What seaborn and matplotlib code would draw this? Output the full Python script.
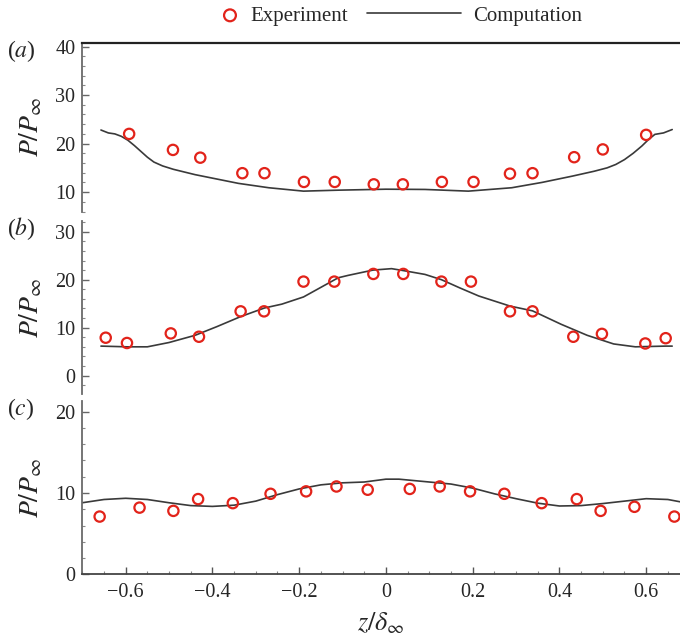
import numpy as np
import pandas as pd
import matplotlib
matplotlib.use("Agg")
import matplotlib.pyplot as plt
from matplotlib.ticker import MultipleLocator
import seaborn as sns

# %% Data
# (a)
z_exp_a = [-0.592, -0.491, -0.428, -0.331, -0.280, -0.189, -0.118, -0.028,
           0.039, 0.129, 0.202, 0.286, 0.338, 0.434, 0.500, 0.600]
p_exp_a = [22.0, 18.7, 17.1, 13.9, 13.9, 12.1, 12.1, 11.6,
           11.6, 12.1, 12.1, 13.8, 13.9, 17.2, 18.8, 21.8]
z_cmp_a = [-0.657, -0.640, -0.625, -0.610, -0.595, -0.580, -0.565, -0.550, -0.535,
           -0.515, -0.490, -0.440, -0.390, -0.340, -0.270, -0.190, -0.110, 0.000,
           0.090, 0.190, 0.290, 0.360, 0.430, 0.480, 0.510, 0.530, 0.550, 0.570,
           0.590, 0.605, 0.620, 0.640, 0.660]
p_cmp_a = [22.8, 22.2, 22.0, 21.5, 20.7, 19.6, 18.4, 17.2, 16.2,
           15.4, 14.7, 13.6, 12.7, 11.8, 10.9, 10.2, 10.4, 10.6,
           10.55, 10.2, 10.9, 12.0, 13.3, 14.3, 15.0, 15.7, 16.7, 18.0,
           19.5, 20.8, 21.9, 22.2, 22.9]

# (b)
z_exp_b = [-0.646, -0.597, -0.496, -0.431, -0.335, -0.281, -0.190, -0.119, -0.029,
           0.040, 0.128, 0.196, 0.286, 0.338, 0.432, 0.498, 0.598, 0.645]
p_exp_b = [7.9, 6.8, 8.8, 8.1, 13.4, 13.4, 19.6, 19.6, 21.2,
           21.2, 19.6, 19.6, 13.4, 13.4, 8.1, 8.7, 6.7, 7.8]
z_cmp_b = [-0.657, -0.597, -0.550, -0.500, -0.440, -0.390, -0.335, -0.280, -0.240,
           -0.190, -0.150, -0.110, -0.087, -0.030, 0.013, 0.040, 0.090, 0.128,
           0.170, 0.214, 0.286, 0.338, 0.404, 0.464, 0.525, 0.575, 0.645, 0.660]
p_cmp_b = [6.15, 6.0, 6.0, 6.9, 8.4, 10.2, 12.3, 14.1, 14.9,
           16.4, 18.4, 20.4, 20.9, 22.0, 22.3, 21.9, 21.1, 20.0,
           18.3, 16.6, 14.5, 13.5, 10.7, 8.4, 6.6, 6.0, 6.15, 6.15]

# (c)
z_exp_c = [-0.660, -0.568, -0.490, -0.433, -0.353, -0.266, -0.184, -0.114, -0.042,
           0.055, 0.124, 0.194, 0.273, 0.359, 0.440, 0.495, 0.573, 0.665]
p_exp_c = [7.1, 8.2, 7.8, 9.25, 8.75, 9.9, 10.2, 10.8, 10.4,
           10.5, 10.8, 10.2, 9.9, 8.75, 9.25, 7.8, 8.3, 7.1]
z_cmp_c = [-0.70, -0.65, -0.60, -0.55, -0.50, -0.45, -0.40, -0.35, -0.30, -0.25,
           -0.20, -0.15, -0.10, -0.05, 0.00, 0.03, 0.05, 0.10, 0.15, 0.20,
           0.25, 0.30, 0.35, 0.40, 0.45, 0.50, 0.55, 0.60, 0.65, 0.68]
p_cmp_c = [8.8, 9.2, 9.35, 9.2, 8.8, 8.45, 8.35, 8.5, 9.0, 9.8,
           10.5, 11.0, 11.25, 11.35, 11.7, 11.7, 11.6, 11.35, 11.1, 10.6,
           9.9, 9.3, 8.75, 8.4, 8.45, 8.7, 9.0, 9.3, 9.2, 8.9]

panels = ['a', 'b', 'c']
y_limits = [(5.9, 40.8), (-3.9, 32.3), (0, 21.35)]
y_ticks = [[10, 20, 30, 40], [0, 10, 20, 30], [0, 10, 20]]

exp_z = [z_exp_a, z_exp_b, z_exp_c]
exp_p = [p_exp_a, p_exp_b, p_exp_c]
cmp_z = [z_cmp_a, z_cmp_b, z_cmp_c]
cmp_p = [p_cmp_a, p_cmp_b, p_cmp_c]

# %% Style
sns.set_style("ticks")
plt.rcParams['font.family'] = ['Liberation Serif', 'DejaVu Serif']
plt.rcParams['mathtext.fontset'] = 'stix'

red = '#e2231a'
grey_line = '#3a3a3a'

W, H = 680, 640
fig = plt.figure(figsize=(W / 100, H / 100), dpi=100)

# axes boxes in pixels: (top, bottom)
boxes = [(42.7, 212.0), (220.7, 394.3), (400.7, 574.3)]
left_px = 82.3

for i, tag in enumerate(panels):
    top, bot = boxes[i]
    ax = fig.add_axes([left_px / W, 1 - bot / H, 1 - left_px / W, (bot - top) / H])

    cmp_df = pd.DataFrame({'z': cmp_z[i], 'p': cmp_p[i]})
    exp_df = pd.DataFrame({'z': exp_z[i], 'p': exp_p[i]})

    sns.lineplot(data=cmp_df, x='z', y='p', ax=ax, color=grey_line, linewidth=1.2,
                 estimator=None, sort=False, label='Computation', zorder=2)
    sns.scatterplot(data=exp_df, x='z', y='p', ax=ax, marker='o', s=55,
                    facecolors='none', edgecolors=red, linewidths=1.6,
                    label='Experiment', zorder=3)

    ax.set_xlim(-0.7, 0.678)
    ax.set_ylim(*y_limits[i])
    ax.set_yticks(y_ticks[i])
    ax.yaxis.set_minor_locator(MultipleLocator(2))
    ax.tick_params(axis='y', which='major', direction='in', length=5, width=1,
                   color='#666666', labelsize=14.5, pad=5)
    ax.tick_params(axis='y', which='minor', direction='in', length=2.5, width=0.8,
                   color='#888888')

    for s in ['left', 'right', 'top', 'bottom']:
        ax.spines[s].set_visible(False)
    ax.spines['left'].set_visible(True)
    ax.spines['left'].set_color('#6a6a6a')
    ax.spines['left'].set_linewidth(1.3)

    ax.set_ylabel(r'$P/P_\infty$', fontsize=20)
    ax.yaxis.set_label_coords(-0.063, 0.5)

    if tag == 'a':
        ax.spines['top'].set_visible(True)
        ax.spines['top'].set_color('#222222')
        ax.spines['top'].set_linewidth(1.6)
    if tag == 'c':
        ax.spines['bottom'].set_visible(True)
        ax.spines['bottom'].set_color('#444444')
        ax.spines['bottom'].set_linewidth(1.3)
        ax.set_xticks([-0.6, -0.4, -0.2, 0, 0.2, 0.4, 0.6])
        ax.set_xticklabels(['\u22120.6', '\u22120.4', '\u22120.2', '0', '0.2', '0.4', '0.6'])
        ax.xaxis.set_minor_locator(MultipleLocator(0.05))
        ax.tick_params(axis='x', which='major', direction='in', length=5, width=1,
                       color='#555555', labelsize=14.5, pad=6)
        ax.tick_params(axis='x', which='minor', direction='in', length=2.5, width=0.8,
                       color='#888888')
        ax.set_xlabel(r'$z/\delta_\infty$', fontsize=19, labelpad=6)
    else:
        ax.set_xticks([])
        ax.set_xlabel('')

    handles, labels = ax.get_legend_handles_labels()
    ax.get_legend().remove()

    fig.text(7 / W, 1 - (top + 8) / H, '($' + tag + '$)', fontsize=17,
             ha='left', va='center')

h = dict(zip(labels, handles))
fig.legend([h['Experiment']], ['Experiment'], loc='center',
           bbox_to_anchor=(284 / W, 1 - 16 / H), frameon=False, fontsize=15,
           handlelength=1.0, handletextpad=0.5, markerscale=1.15)
fig.legend([h['Computation']], ['Computation'], loc='center',
           bbox_to_anchor=(475 / W, 1 - 16 / H), frameon=False, fontsize=15,
           handlelength=4.5, handletextpad=0.6)

fig.savefig('out.png', dpi=100)
